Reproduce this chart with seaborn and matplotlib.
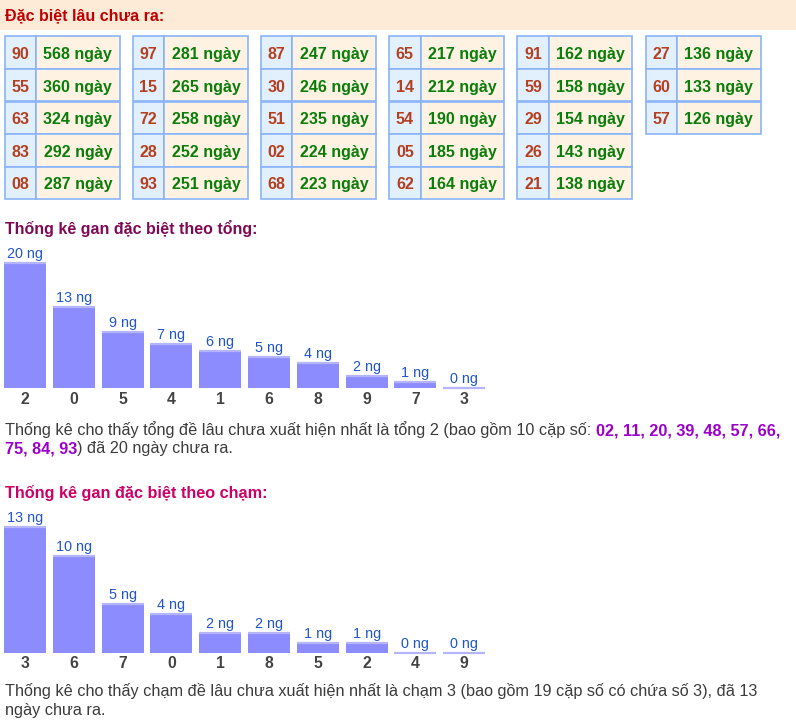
import matplotlib
matplotlib.use("Agg")
import matplotlib.pyplot as plt
import seaborn as sns
import pandas as pd
from matplotlib.patches import Rectangle

# ---------------- data ----------------
table_numbers = [
    ["90", "55", "63", "83", "08"],
    ["97", "15", "72", "28", "93"],
    ["87", "30", "51", "02", "68"],
    ["65", "14", "54", "05", "62"],
    ["91", "59", "29", "26", "21"],
    ["27", "60", "57"],
]
table_days = [
    [568, 360, 324, 292, 287],
    [281, 265, 258, 252, 251],
    [247, 246, 235, 224, 223],
    [217, 212, 190, 185, 164],
    [162, 158, 154, 143, 138],
    [136, 133, 126],
]
tong_cats = ["2", "0", "5", "4", "1", "6", "8", "9", "7", "3"]
tong_vals = [20, 13, 9, 7, 6, 5, 4, 2, 1, 0]
cham_cats = ["3", "6", "7", "0", "1", "8", "5", "2", "4", "9"]
cham_vals = [13, 10, 5, 4, 2, 2, 1, 1, 0, 0]

header_title = "Đặc biệt lâu chưa ra:"
tong_title = "Thống kê gan đặc biệt theo tổng:"
cham_title = "Thống kê gan đặc biệt theo chạm:"
para1_l1a = "Thống kê cho thấy tổng đề lâu chưa xuất hiện nhất là tổng 2 (bao gồm 10 cặp số: "
para1_l1b = "02, 11, 20, 39, 48, 57, 66,"
para1_l2a = "75, 84, 93"
para1_l2b = ") đã 20 ngày chưa ra."
para2_l1 = "Thống kê cho thấy chạm đề lâu chưa xuất hiện nhất là chạm 3 (bao gồm 19 cặp số có chứa số 3), đã 13"
para2_l2 = "ngày chưa ra."

# ---------------- style ----------------
sns.set_theme(style="white")
plt.rcParams["font.family"] = ["Liberation Sans", "DejaVu Sans"]

W, H = 796, 728
fig = plt.figure(figsize=(W / 100, H / 100), dpi=100)
fig.patch.set_facecolor("white")
bg = fig.add_axes([0, 0, 1, 1])
bg.set_xlim(0, W)
bg.set_ylim(H, 0)
bg.axis("off")
renderer = fig.canvas.get_renderer()


def text_w(t):
    return t.get_window_extent(renderer).width


def fitted(ax, x, y, s, width, ha="left", va="baseline", **kw):
    t = ax.text(x, y, s, fontsize=10, ha=ha, va=va, **kw)
    t.set_fontsize(10 * width / text_w(t))
    return t


# header band
bg.add_patch(Rectangle((0, 0), W, 30, facecolor="#fdebd8", lw=0))
fitted(bg, 5, 20.5, header_title, 158, weight="bold", color="#c00000")

# tables
TBL_LEFT, TBL_PITCH = 4.5, 128.2
NUM_W, VAL_W = 31.5, 83.5
TBL_TOP, ROW_H = 36.3, 32.6
BORDER = "#8ab4f8"
cell_fs = None
for ci, (nums, days) in enumerate(zip(table_numbers, table_days)):
    x0 = TBL_LEFT + ci * TBL_PITCH
    for ri, (n, d) in enumerate(zip(nums, days)):
        y0 = TBL_TOP + ri * ROW_H
        bg.add_patch(Rectangle((x0, y0), NUM_W, ROW_H, facecolor="#e2effd",
                               edgecolor=BORDER, lw=1.2))
        bg.add_patch(Rectangle((x0 + NUM_W, y0), VAL_W, ROW_H, facecolor="#fef3e2",
                               edgecolor=BORDER, lw=1.2))
        if cell_fs is None:
            t = fitted(bg, x0 + NUM_W + VAL_W / 2, y0 + 22.7, f"{d} ngày", 69,
                       ha="center", weight="bold", color="#0a7d0a")
            cell_fs = t.get_fontsize()
        else:
            bg.text(x0 + NUM_W + VAL_W / 2, y0 + 22.7, f"{d} ngày", ha="center",
                    va="baseline", fontsize=cell_fs, weight="bold", color="#0a7d0a")
        bg.text(x0 + NUM_W / 2, y0 + 22.7, n, ha="center", va="baseline",
                fontsize=cell_fs, weight="bold", color="#b5401f")

# chart titles
fitted(bg, 5, 234, tong_title, 253, weight="bold", color="#7e0a55")
fitted(bg, 5, 497.7, cham_title, 262, weight="bold", color="#cc0066")

# paragraphs
GRAY = "#3c3c3c"
PURPLE = "#9b00cc"
ta = bg.text(5, 435, para1_l1a, fontsize=10, va="baseline", color=GRAY)
tb = bg.text(5, 435, para1_l1b, fontsize=10, va="baseline", color=PURPLE, weight="bold")
total = text_w(ta) + text_w(tb)
pfs = 10 * 775 / total
ta.set_fontsize(pfs)
tb.set_fontsize(pfs)
tb.set_x(5 + text_w(ta))
tc = bg.text(5, 453.5, para1_l2a, fontsize=pfs, va="baseline", color=PURPLE, weight="bold")
bg.text(5 + text_w(tc), 453.5, para1_l2b, fontsize=pfs, va="baseline", color=GRAY)
bg.text(5, 696, para2_l1, fontsize=pfs, va="baseline", color=GRAY)
bg.text(5, 715, para2_l2, fontsize=pfs, va="baseline", color=GRAY)

# ---------------- bar charts ----------------
BAR_COLOR = "#8c8cff"
TOP_COLOR = "#b4b4ff"
LABEL_COLOR = "#2255cc"
BAR_W = 0.86


def bar_chart(cats, vals, base_y, height_px):
    left, width = 0.6, 488.0
    ax = fig.add_axes([left / W, (H - base_y) / H, width / W, height_px / H])
    ax.set_facecolor("none")
    df = pd.DataFrame({"cat": cats, "val": vals})
    sns.barplot(data=df, x="cat", y="val", order=cats, color=BAR_COLOR,
                width=BAR_W, saturation=1, ax=ax, zorder=2)
    for p in ax.patches:
        p.set_edgecolor("none")
    xs = range(len(cats))
    ax.hlines(vals, [x - BAR_W / 2 for x in xs], [x + BAR_W / 2 for x in xs],
              color=TOP_COLOR, lw=1.6, zorder=3)
    ax.bar_label(ax.containers[0], labels=[f"{v} ng" for v in vals], padding=1.5,
                 fontsize=10.4, color=LABEL_COLOR)
    ax.set_xlim(-0.5, len(cats) - 0.5)
    ax.set_ylim(0, max(vals))
    ax.set_xlabel("")
    ax.set_ylabel("")
    ax.set_yticks([])
    ax.tick_params(axis="x", length=0, pad=2.5, labelsize=11.3, labelcolor="#444444")
    for lab in ax.get_xticklabels():
        lab.set_fontweight("bold")
    for s in ax.spines.values():
        s.set_visible(False)
    ax.set_clip_on(False)
    for c in ax.get_children():
        try:
            c.set_clip_on(False)
        except Exception:
            pass
    return ax


bar_chart(tong_cats, tong_vals, 388.3, 125.6)
bar_chart(cham_cats, cham_vals, 652.7, 125.4)

fig.savefig("out.png", dpi=100, facecolor="white")
